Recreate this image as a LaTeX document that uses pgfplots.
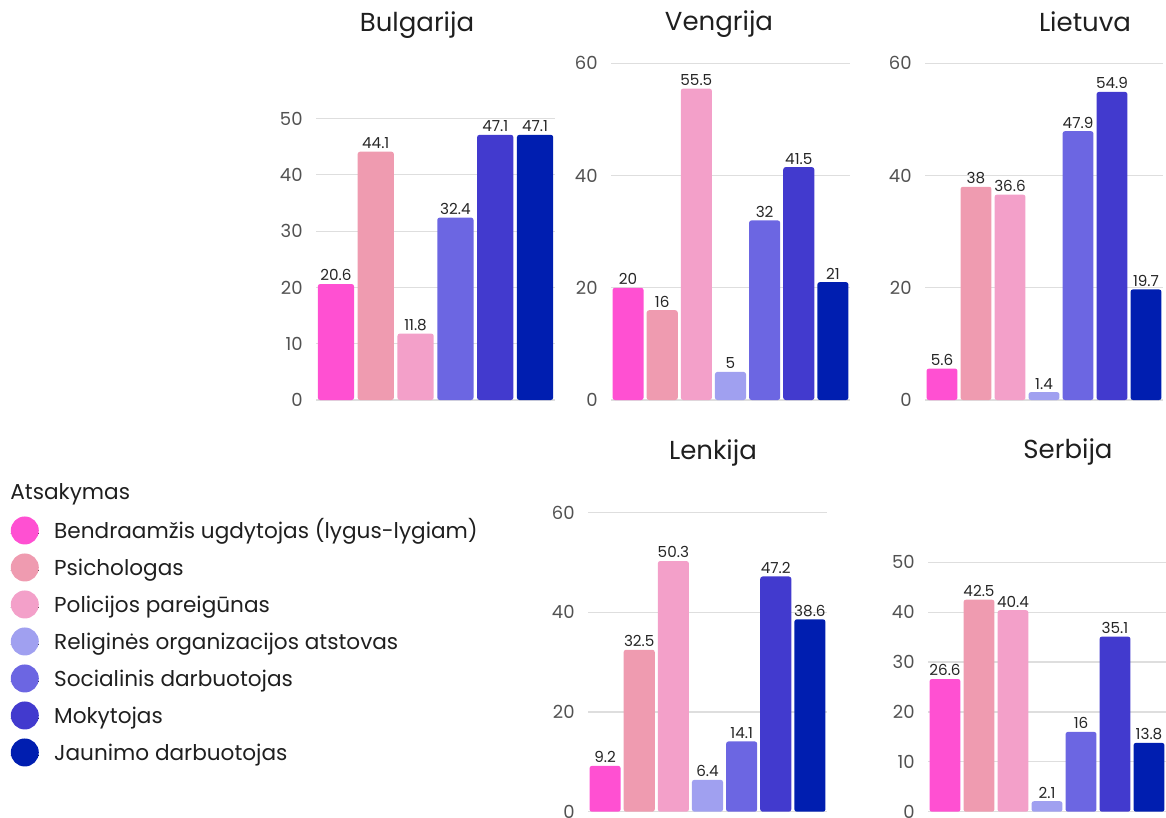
\documentclass[border=0pt]{standalone}
\usepackage{pgfplots}
\pgfplotsset{compat=1.18}
\usepackage{fontspec}
\setmainfont{Poppins}

\definecolor{cA}{HTML}{FF50D2}
\definecolor{cB}{HTML}{EF9BB0}
\definecolor{cC}{HTML}{F3A0C9}
\definecolor{cD}{HTML}{A0A0F0}
\definecolor{cE}{HTML}{6C66E2}
\definecolor{cF}{HTML}{423ACE}
\definecolor{cG}{HTML}{001EB0}

\newcommand\titlefont{\fontsize{13}{13}\selectfont}
\newcommand\legfont{\fontsize{10.8}{10.8}\selectfont}

\pgfplotsset{
  cntry/.style={
    scale only axis, anchor=south west,
    ybar, bar shift=0pt, bar width=0.91,
    ymin=0, xmin=-0.5, xtick=\empty,
    axis line style={draw=none},
    ymajorgrids, grid style={draw=black!13, line width=0.6pt},
    major tick length=0pt,
    /pgf/number format/assume math mode=true,
    yticklabel style={font=\fontsize{9}{9}\selectfont, text=black!68,
      inner sep=0pt, xshift=-6.5pt},
    nodes near coords,
    every node near coord/.append style={font=\fontsize{7.6}{7.6}\selectfont,
      text=black!85, inner sep=1.3pt},
    every axis plot/.append style={draw=none, rounded corners=1.2pt},
    clip=false,
  },
  dot/.style={legend image code/.code={%
      \path (0pt,0pt) rectangle (14pt,0pt);
      \fill[##1,draw=none,overlay] (7pt,1.4pt) circle (7pt);}},
}

\begin{document}
\begin{tikzpicture}
\path[use as bounding box] (0,0) rectangle (583pt,-409pt);

% Bulgarija
\begin{axis}[cntry, at={(158pt,-200pt)}, width=119.5pt, height=140.75pt,
  ymax=50, ytick={0,10,...,50}, xmax=5.5]
\addplot[fill=cA] coordinates {(0,20.6)};
\addplot[fill=cB] coordinates {(1,44.1)};
\addplot[fill=cC] coordinates {(2,11.8)};
\addplot[fill=cE] coordinates {(3,32.4)};
\addplot[fill=cF] coordinates {(4,47.1)};
\addplot[fill=cG] coordinates {(5,47.1)};
\end{axis}

% Vengrija
\begin{axis}[cntry, at={(305.5pt,-200pt)}, width=119.5pt, height=168.35pt,
  ymax=60, ytick={0,20,...,60}, xmax=6.5]
\addplot[fill=cA] coordinates {(0,20)};
\addplot[fill=cB] coordinates {(1,16)};
\addplot[fill=cC] coordinates {(2,55.5)};
\addplot[fill=cD] coordinates {(3,5)};
\addplot[fill=cE] coordinates {(4,32)};
\addplot[fill=cF] coordinates {(5,41.5)};
\addplot[fill=cG] coordinates {(6,21)};
\end{axis}

% Lietuva
\begin{axis}[cntry, at={(462.5pt,-200pt)}, width=119pt, height=168.35pt,
  ymax=60, ytick={0,20,...,60}, xmax=6.5]
\addplot[fill=cA] coordinates {(0,5.6)};
\addplot[fill=cB] coordinates {(1,38)};
\addplot[fill=cC] coordinates {(2,36.6)};
\addplot[fill=cD] coordinates {(3,1.4)};
\addplot[fill=cE] coordinates {(4,47.9)};
\addplot[fill=cF] coordinates {(5,54.9)};
\addplot[fill=cG] coordinates {(6,19.7)};
\end{axis}

% Lenkija
\begin{axis}[cntry, at={(294pt,-405.85pt)}, width=119.5pt, height=149.5pt,
  ymax=60, ytick={0,20,...,60}, xmax=6.5]
\addplot[fill=cA] coordinates {(0,9.2)};
\addplot[fill=cB] coordinates {(1,32.5)};
\addplot[fill=cC] coordinates {(2,50.3)};
\addplot[fill=cD] coordinates {(3,6.4)};
\addplot[fill=cE] coordinates {(4,14.1)};
\addplot[fill=cF] coordinates {(5,47.2)};
\addplot[fill=cG] coordinates {(6,38.6)};
\end{axis}

% Serbija
\begin{axis}[cntry, at={(464pt,-405.85pt)}, width=119pt, height=124.7pt,
  ymax=50, ytick={0,10,...,50}, xmax=6.5]
\addplot[fill=cA] coordinates {(0,26.6)};
\addplot[fill=cB] coordinates {(1,42.5)};
\addplot[fill=cC] coordinates {(2,40.4)};
\addplot[fill=cD] coordinates {(3,2.1)};
\addplot[fill=cE] coordinates {(4,16)};
\addplot[fill=cF] coordinates {(5,35.1)};
\addplot[fill=cG] coordinates {(6,13.8)};
\end{axis}

% country titles
\begin{scope}[every node/.style={anchor=base, inner sep=0pt, font=\titlefont, text=black!88}]
\node at (208.5pt,-15.75pt) {Bulgarija};
\node at (359.5pt,-15.25pt) {Vengrija};
\node at (542.5pt,-15.75pt) {Lietuva};
\node at (356.5pt,-229.5pt) {Lenkija};
\node at (534pt,-229pt) {Serbija};
\end{scope}

% legend
\node[anchor=base west, inner sep=0pt, font=\legfont, text=black!88] at (5pt,-249.5pt) {Atsakymas};
\begin{axis}[hide axis, scale only axis, anchor=south west, at={(0pt,-409pt)},
  width=583pt, height=409pt, xmin=0, xmax=1, ymin=0, ymax=1,
  legend cell align=left,
  legend style={at={(0.00858,0.3614)}, anchor=north west, draw=none, fill=none,
    inner sep=0pt, font=\legfont, text=black!88, row sep=8pt,
    nodes={inner sep=0pt, text height=8pt, text depth=2.5pt},
    /tikz/every odd column/.append style={column sep=7.5pt}}]
\addlegendimage{dot, fill=cA}\addlegendentry{Bendraamžis ugdytojas (lygus-lygiam)}
\addlegendimage{dot, fill=cB}\addlegendentry{Psichologas}
\addlegendimage{dot, fill=cC}\addlegendentry{Policijos pareigūnas}
\addlegendimage{dot, fill=cD}\addlegendentry{Religinės organizacijos atstovas}
\addlegendimage{dot, fill=cE}\addlegendentry{Socialinis darbuotojas}
\addlegendimage{dot, fill=cF}\addlegendentry{Mokytojas}
\addlegendimage{dot, fill=cG}\addlegendentry{Jaunimo darbuotojas}
\end{axis}
\end{tikzpicture}
\end{document}
